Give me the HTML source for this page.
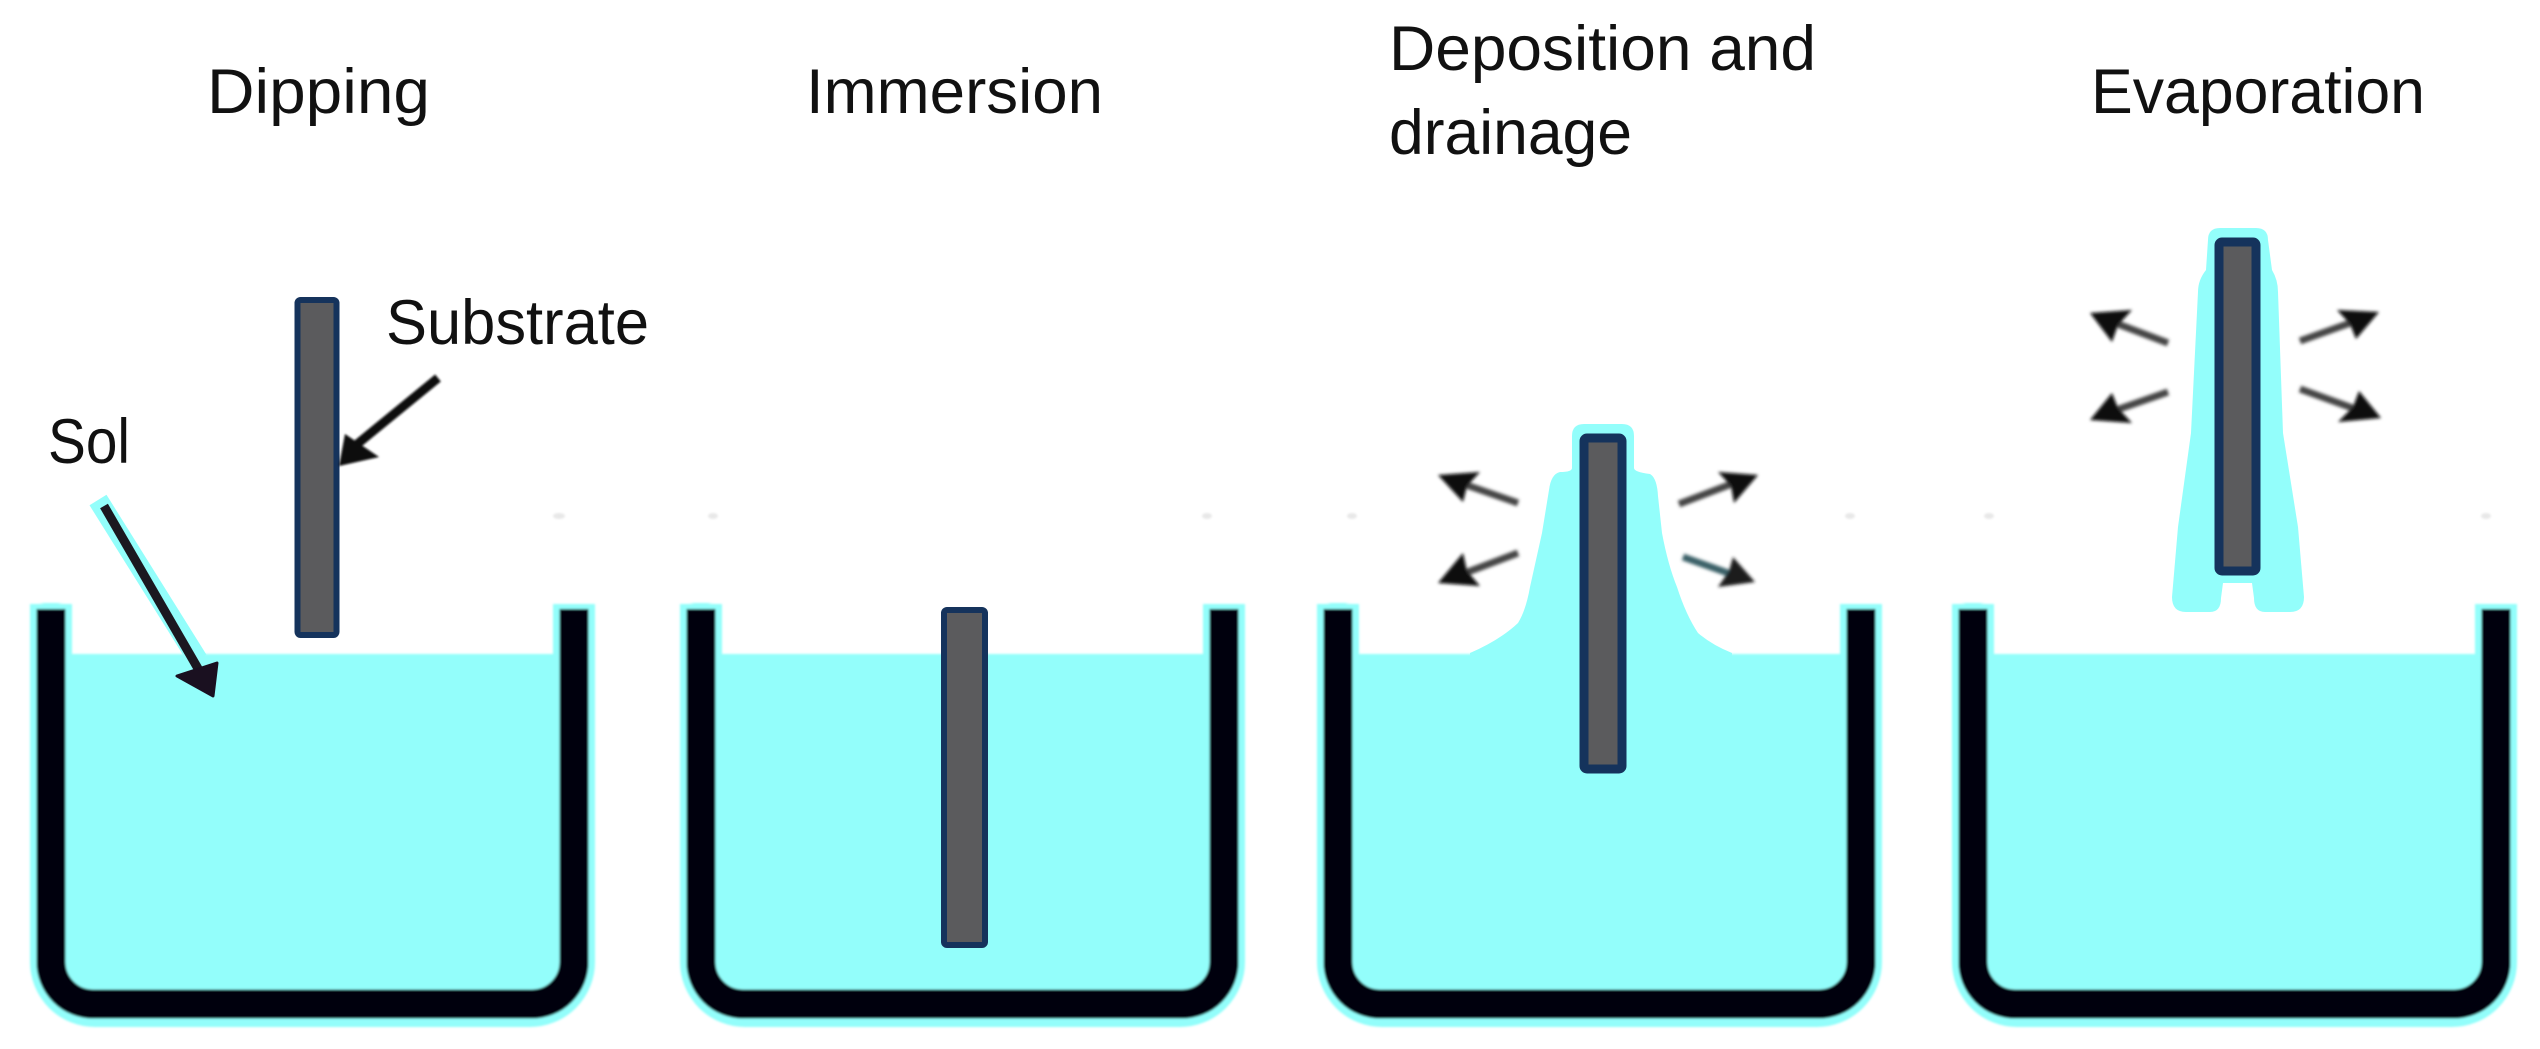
<!DOCTYPE html>
<html><head><meta charset="utf-8"><style>
html,body{margin:0;padding:0;background:#fff}
svg{display:block}
text{font-family:"Liberation Sans",sans-serif;font-size:63px;fill:#111}
</style></head><body>
<svg xmlns="http://www.w3.org/2000/svg" width="2540" height="1049" viewBox="0 0 2540 1049">
<defs>
<filter id="b" x="-20%" y="-20%" width="140%" height="140%"><feGaussianBlur stdDeviation="1"/></filter>
<filter id="c" x="-30%" y="-30%" width="160%" height="160%"><feGaussianBlur stdDeviation="1.6"/></filter>
<g id="tank">
  <path d="M15 42H538V360a40 40 0 0 1-40 40H55a40 40 0 0 1-40-40Z" fill="#93fefb"/>
  <path d="M15 4Q15 -9 2 -9H28Q15 -9 15 4" fill="#93fefb"/>
  <path d="M15 -8V350a44 44 0 0 0 44 44H494a44 44 0 0 0 44-44V-8" fill="none" stroke="#93fefb" stroke-width="42" stroke-linejoin="round"/>
  <path d="M15 -3V350a42 42 0 0 0 42 42H496a42 42 0 0 0 42-42V-3" fill="none" stroke="#050308" stroke-width="29"/>
</g>
</defs>
<rect width="2540" height="1049" fill="#fff"/>

<!-- Tanks -->
<g filter="url(#b)">
<use href="#tank" transform="translate(36,612)"/>
<use href="#tank" transform="translate(686,612)"/>
<use href="#tank" transform="translate(1323,612)"/>
<use href="#tank" transform="translate(1958,612)"/>
</g>

<!-- Deposition film -->
<path d="M1572 436Q1572 424 1584 424H1622Q1634 424 1634 436V468Q1634 472 1650 474Q1657 478 1658 496L1662 533Q1668 565 1677 587Q1686 615 1698 633Q1712 645 1732 653V665H1470V653Q1500 640 1518 623Q1526 610 1530 587L1542 533L1549 490Q1551 474 1560 472Q1572 472 1572 468Z" fill="#93fefb"/>
<!-- Evaporation film -->
<path d="M2208 240Q2208 228 2220 228H2256Q2268 228 2268 240L2272 270Q2278 280 2278 292L2283 433L2298 527L2304 597Q2304 612 2290 612H2265Q2254 612 2254 598L2252 583H2223L2221 598Q2221 612 2210 612H2186Q2172 612 2172 597L2178 527L2191 433L2198 292Q2198 280 2206 270Z" fill="#93fefb"/>

<!-- Substrates -->
<g fill="#5b5b5d" stroke="#15335c" stroke-linejoin="round">
<rect x="297.500" y="300" width="39" height="335" rx="3" stroke-width="6"/>
<rect x="944" y="610" width="41" height="335" rx="3" stroke-width="6"/>
<rect x="1584" y="438" width="38" height="331" rx="3" stroke-width="9"/>
<rect x="2219" y="242" width="37" height="329" rx="3" stroke-width="9"/>
</g>

<!-- Sol arrow -->
<line x1="98" y1="500" x2="198" y2="660" stroke="#93fefb" stroke-width="20"/>
<line x1="104" y1="506" x2="200" y2="672" stroke="#1b1820" stroke-width="9"/>
<path d="M177 676L217 663L213 696Z" fill="#1a1020" stroke="#1a1020" stroke-width="3" stroke-linejoin="round"/>
<!-- Substrate arrow -->
<g filter="url(#b)">
<line x1="438" y1="378" x2="350" y2="450" stroke="#111" stroke-width="9"/>
<path d="M345 434L379 457L339 466Z" fill="#0a0a0a"/>
</g>

<!-- Evaporation arrows -->
<g filter="url(#c)" fill="#0a0a0a" stroke-linejoin="round">
<g stroke="#444" stroke-width="7">
<line x1="1518" y1="503" x2="1452" y2="480"/>
<line x1="1679" y1="504" x2="1742" y2="480"/>
<line x1="1518" y1="553" x2="1452" y2="578"/>
<line x1="1683" y1="557" x2="1742" y2="578" stroke="#3a6068"/>
<line x1="2168" y1="343" x2="2102" y2="318"/>
<line x1="2300" y1="341" x2="2367" y2="317"/>
<line x1="2168" y1="392" x2="2102" y2="415"/>
<line x1="2300" y1="389" x2="2369" y2="414"/>
</g>
<path d="M1438 475L1480 472L1467 486L1463 502Z"/>
<path d="M1758 475L1718 472L1731 486L1734 503Z"/>
<path d="M1438 583L1463 553L1467 571L1480 586Z"/>
<path d="M1755 582L1733 557L1729 571L1718 587Z" fill="#1c1c1c"/>
<path d="M2090 313L2132 310L2118 325L2112 342Z"/>
<path d="M2379 312L2337 310L2350 324L2356 339Z"/>
<path d="M2090 420L2112 393L2118 408L2132 423Z"/>
<path d="M2381 418L2359 391L2353 407L2338 422Z"/>
</g>

<!-- Faint specks -->
<g fill="#e8e8e8" filter="url(#b)">
<ellipse cx="559" cy="516" rx="6" ry="3"/><ellipse cx="713" cy="516" rx="5" ry="3"/>
<ellipse cx="1207" cy="516" rx="5" ry="3"/><ellipse cx="1352" cy="516" rx="5" ry="3"/>
<ellipse cx="1850" cy="516" rx="5" ry="3"/><ellipse cx="1989" cy="516" rx="5" ry="3"/>
<ellipse cx="2486" cy="516" rx="5" ry="3"/>
</g>

<!-- Labels -->
<text x="207" y="113" textLength="223" lengthAdjust="spacingAndGlyphs">Dipping</text>
<text x="806" y="113" textLength="297" lengthAdjust="spacingAndGlyphs">Immersion</text>
<text x="1389" y="70" textLength="427" lengthAdjust="spacingAndGlyphs">Deposition and</text>
<text x="1389" y="154" textLength="243" lengthAdjust="spacingAndGlyphs">drainage</text>
<text x="2091" y="113" textLength="334" lengthAdjust="spacingAndGlyphs">Evaporation</text>
<text x="386" y="344" textLength="263" lengthAdjust="spacingAndGlyphs">Substrate</text>
<text x="48" y="463" textLength="82" lengthAdjust="spacingAndGlyphs">Sol</text>
</svg>
</body></html>
